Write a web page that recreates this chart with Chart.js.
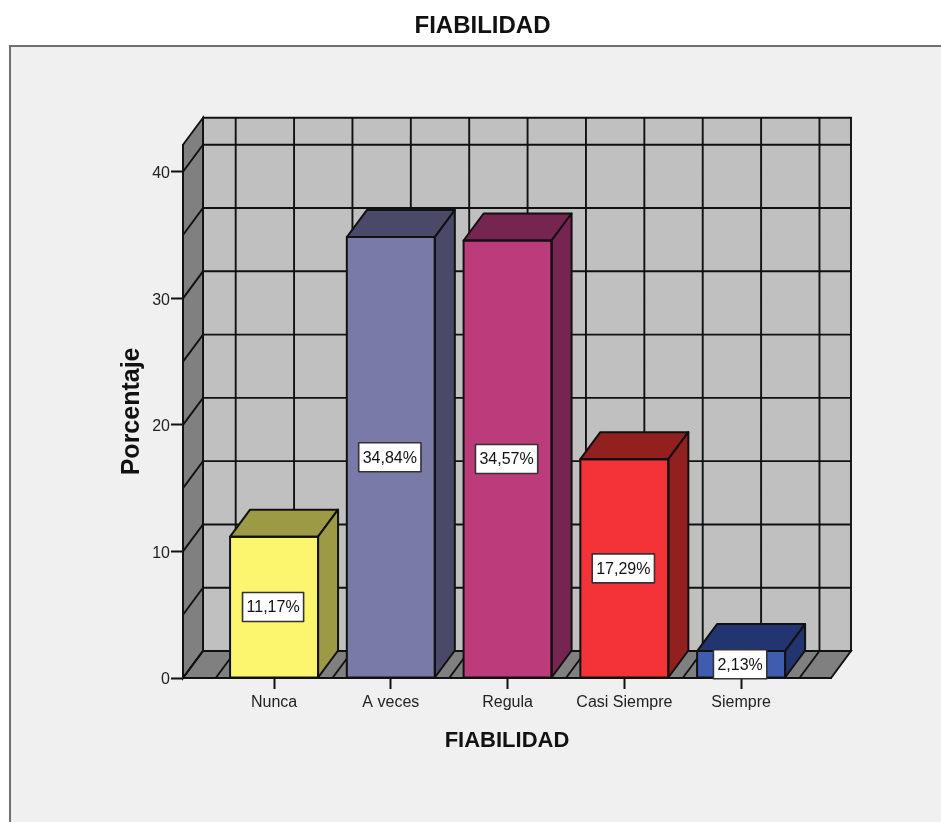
<!DOCTYPE html>
<html>
<head>
<meta charset="utf-8">
<title>FIABILIDAD</title>
<script src="https://cdn.jsdelivr.net/npm/chart.js@4"></script>
<style>
    html, body { margin: 0; padding: 0; background: #fff; }
    canvas { display: block; }
</style>
</head>
<body>
<canvas id="chart" width="941" height="822"></canvas>
<script>
const categories = ['Nunca', 'A veces', 'Regula', 'Casi Siempre', 'Siempre']
const percentages = [11.17, 34.84, 34.57, 17.29, 2.13]
const y_ticks = [0, 10, 20, 30, 40]
const y_grid = [0, 5, 10, 15, 20, 25, 30, 35, 40]
const x_grid = [-0.5, 0, 0.5, 1, 1.5, 2, 2.5, 3, 3.5, 4, 4.5]
const face_colors = ['#fcf66e', '#7a7aa8', '#bb3b7b', '#f43338', '#3f5caf']
const shade_colors = ['#9d9a45', '#4a4a68', '#752550', '#92201f', '#233570']

const line_color = '#111'
const depth_x = 20
const depth_y = 27

const poly = (ctx, pts, fill) => {
    ctx.beginPath()
    pts.forEach((p, i) => i ? ctx.lineTo(p[0], p[1]) : ctx.moveTo(p[0], p[1]))
    ctx.closePath()
    if (fill) {
        ctx.fillStyle = fill
        ctx.fill()
    }
    ctx.stroke()
}

// panel behind the chart plus the three walls of the box
const walls = {
    id: 'walls',
    beforeDraw(chart){
        const {ctx, chartArea: a, scales: {x, y}} = chart
        ctx.save()
        ctx.fillStyle = '#f0f0f0'
        ctx.fillRect(10, 46, chart.width - 10, chart.height - 46)
        ctx.fillStyle = '#707070'
        ctx.fillRect(9, 45, chart.width - 9, 2)
        ctx.fillRect(9, 45, 2, chart.height - 45)

        ctx.strokeStyle = line_color
        ctx.lineWidth = 1.9
        const bx = a.left + depth_x, bxr = a.right + depth_x
        const by = a.top - depth_y, byb = a.bottom - depth_y
        poly(ctx, [[bx, by], [bxr, by], [bxr, byb], [bx, byb]], '#c0c0c0')
        poly(ctx, [[a.left, a.top], [bx, by], [bx, byb], [a.left, a.bottom]], '#808080')
        poly(ctx, [[a.left, a.bottom], [bx, byb], [bxr, byb], [a.right, a.bottom]], '#808080')

        ctx.beginPath()
        y_grid.forEach(v => {
            const py = y.getPixelForValue(v)
            ctx.moveTo(a.left, py)
            ctx.lineTo(bx, py - depth_y)
            ctx.lineTo(bxr, py - depth_y)
        })
        x_grid.forEach(v => {
            const px = x.getPixelForValue(v)
            ctx.moveTo(px, a.bottom)
            ctx.lineTo(px + depth_x, byb)
            ctx.lineTo(px + depth_x, by)
        })
        ctx.stroke()
        ctx.restore()
    }
}

// top and side faces of each bar, then the value boxes
const bars3d = {
    id: 'bars3d',
    afterDatasetsDraw(chart){
        const {ctx} = chart
        const bars = chart.getDatasetMeta(0).data
        ctx.save()
        ctx.strokeStyle = line_color
        ctx.lineWidth = 2
        ctx.lineJoin = 'round'
        bars.forEach((bar, i) => {
            const l = bar.x - bar.width / 2, r = bar.x + bar.width / 2
            const t = bar.y, b = bar.base
            poly(ctx, [[l, t], [l + depth_x, t - depth_y], [r + depth_x, t - depth_y], [r, t]], shade_colors[i])
            poly(ctx, [[r, t], [r + depth_x, t - depth_y], [r + depth_x, b - depth_y], [r, b]], shade_colors[i])
            poly(ctx, [[l, t], [r, t], [r, b], [l, b]])
        })

        ctx.font = '16px "Liberation Sans"'
        ctx.textAlign = 'center'
        ctx.textBaseline = 'middle'
        bars.forEach((bar, i) => {
            const text = percentages[i].toFixed(2).replace('.', ',') + '%'
            const w = ctx.measureText(text).width + 8
            const h = 29
            const cx = bar.x - 1
            const cy = (bar.y + bar.base) / 2
            ctx.fillStyle = '#fff'
            ctx.strokeStyle = '#333'
            ctx.lineWidth = 1.6
            ctx.fillRect(cx - w / 2, cy - h / 2, w, h)
            ctx.strokeRect(cx - w / 2, cy - h / 2, w, h)
            ctx.fillStyle = '#111'
            ctx.fillText(text, cx, cy + 1)
        })
        ctx.restore()
    },
    afterLayout(chart){
        // the heading sits a little right of the page centre
        chart.titleBlock.left = 24
        chart.titleBlock.right = 941
    }
}

Chart.defaults.font.family = '"Liberation Sans", Arial, sans-serif'
Chart.defaults.color = '#222'

new Chart(document.getElementById('chart'), {
    type: 'bar',
    data: {
        datasets: [{
            data: percentages.map((v, i) => ({x: i, y: v})),
            backgroundColor: face_colors,
            barThickness: 88
        }]
    },
    options: {
        responsive: false,
        animation: false,
        layout: {autoPadding: false, padding: {left: 0, right: 110, top: 0, bottom: 0}},
        plugins: {
            legend: {display: false},
            tooltip: {enabled: false},
            title: {
                display: true,
                text: 'FIABILIDAD',
                color: '#111',
                font: {size: 24, weight: 'bold', lineHeight: 1.2},
                padding: {top: 12, bottom: 104}
            }
        },
        scales: {
            x: {
                type: 'linear',
                offset: false,
                min: -0.78,
                max: 4.77,
                afterBuildTicks: axis => { axis.ticks = categories.map((c, i) => ({value: i})) },
                afterFit: axis => { axis.height = 144 },
                grid: {drawOnChartArea: false, offset: false, tickLength: 11, tickColor: line_color, tickWidth: 2},
                border: {color: line_color, width: 2},
                ticks: {
                    autoSkip: false,
                    maxRotation: 0,
                    padding: 4,
                    font: {size: 16},
                    callback: v => categories[v]
                },
                title: {
                    display: true,
                    text: 'FIABILIDAD',
                    color: '#111',
                    font: {size: 22, weight: 'bold', lineHeight: 1.2},
                    padding: {top: 0, bottom: 68}
                }
            },
            y: {
                min: 0,
                max: 42.13,
                afterBuildTicks: axis => { axis.ticks = y_ticks.map(v => ({value: v})) },
                afterFit: axis => { axis.width = 183 },
                grid: {drawOnChartArea: false, tickLength: 12, tickColor: line_color, tickWidth: 2},
                border: {color: line_color, width: 2},
                ticks: {padding: 1, labelOffset: 2, font: {size: 16}},
                title: {
                    display: true,
                    text: 'Porcentaje',
                    color: '#111',
                    font: {size: 25, weight: 'bold', lineHeight: 1.2},
                    padding: {top: 117, bottom: 0}
                }
            }
        }
    },
    plugins: [walls, bars3d]
})
</script>
</body>
</html>
